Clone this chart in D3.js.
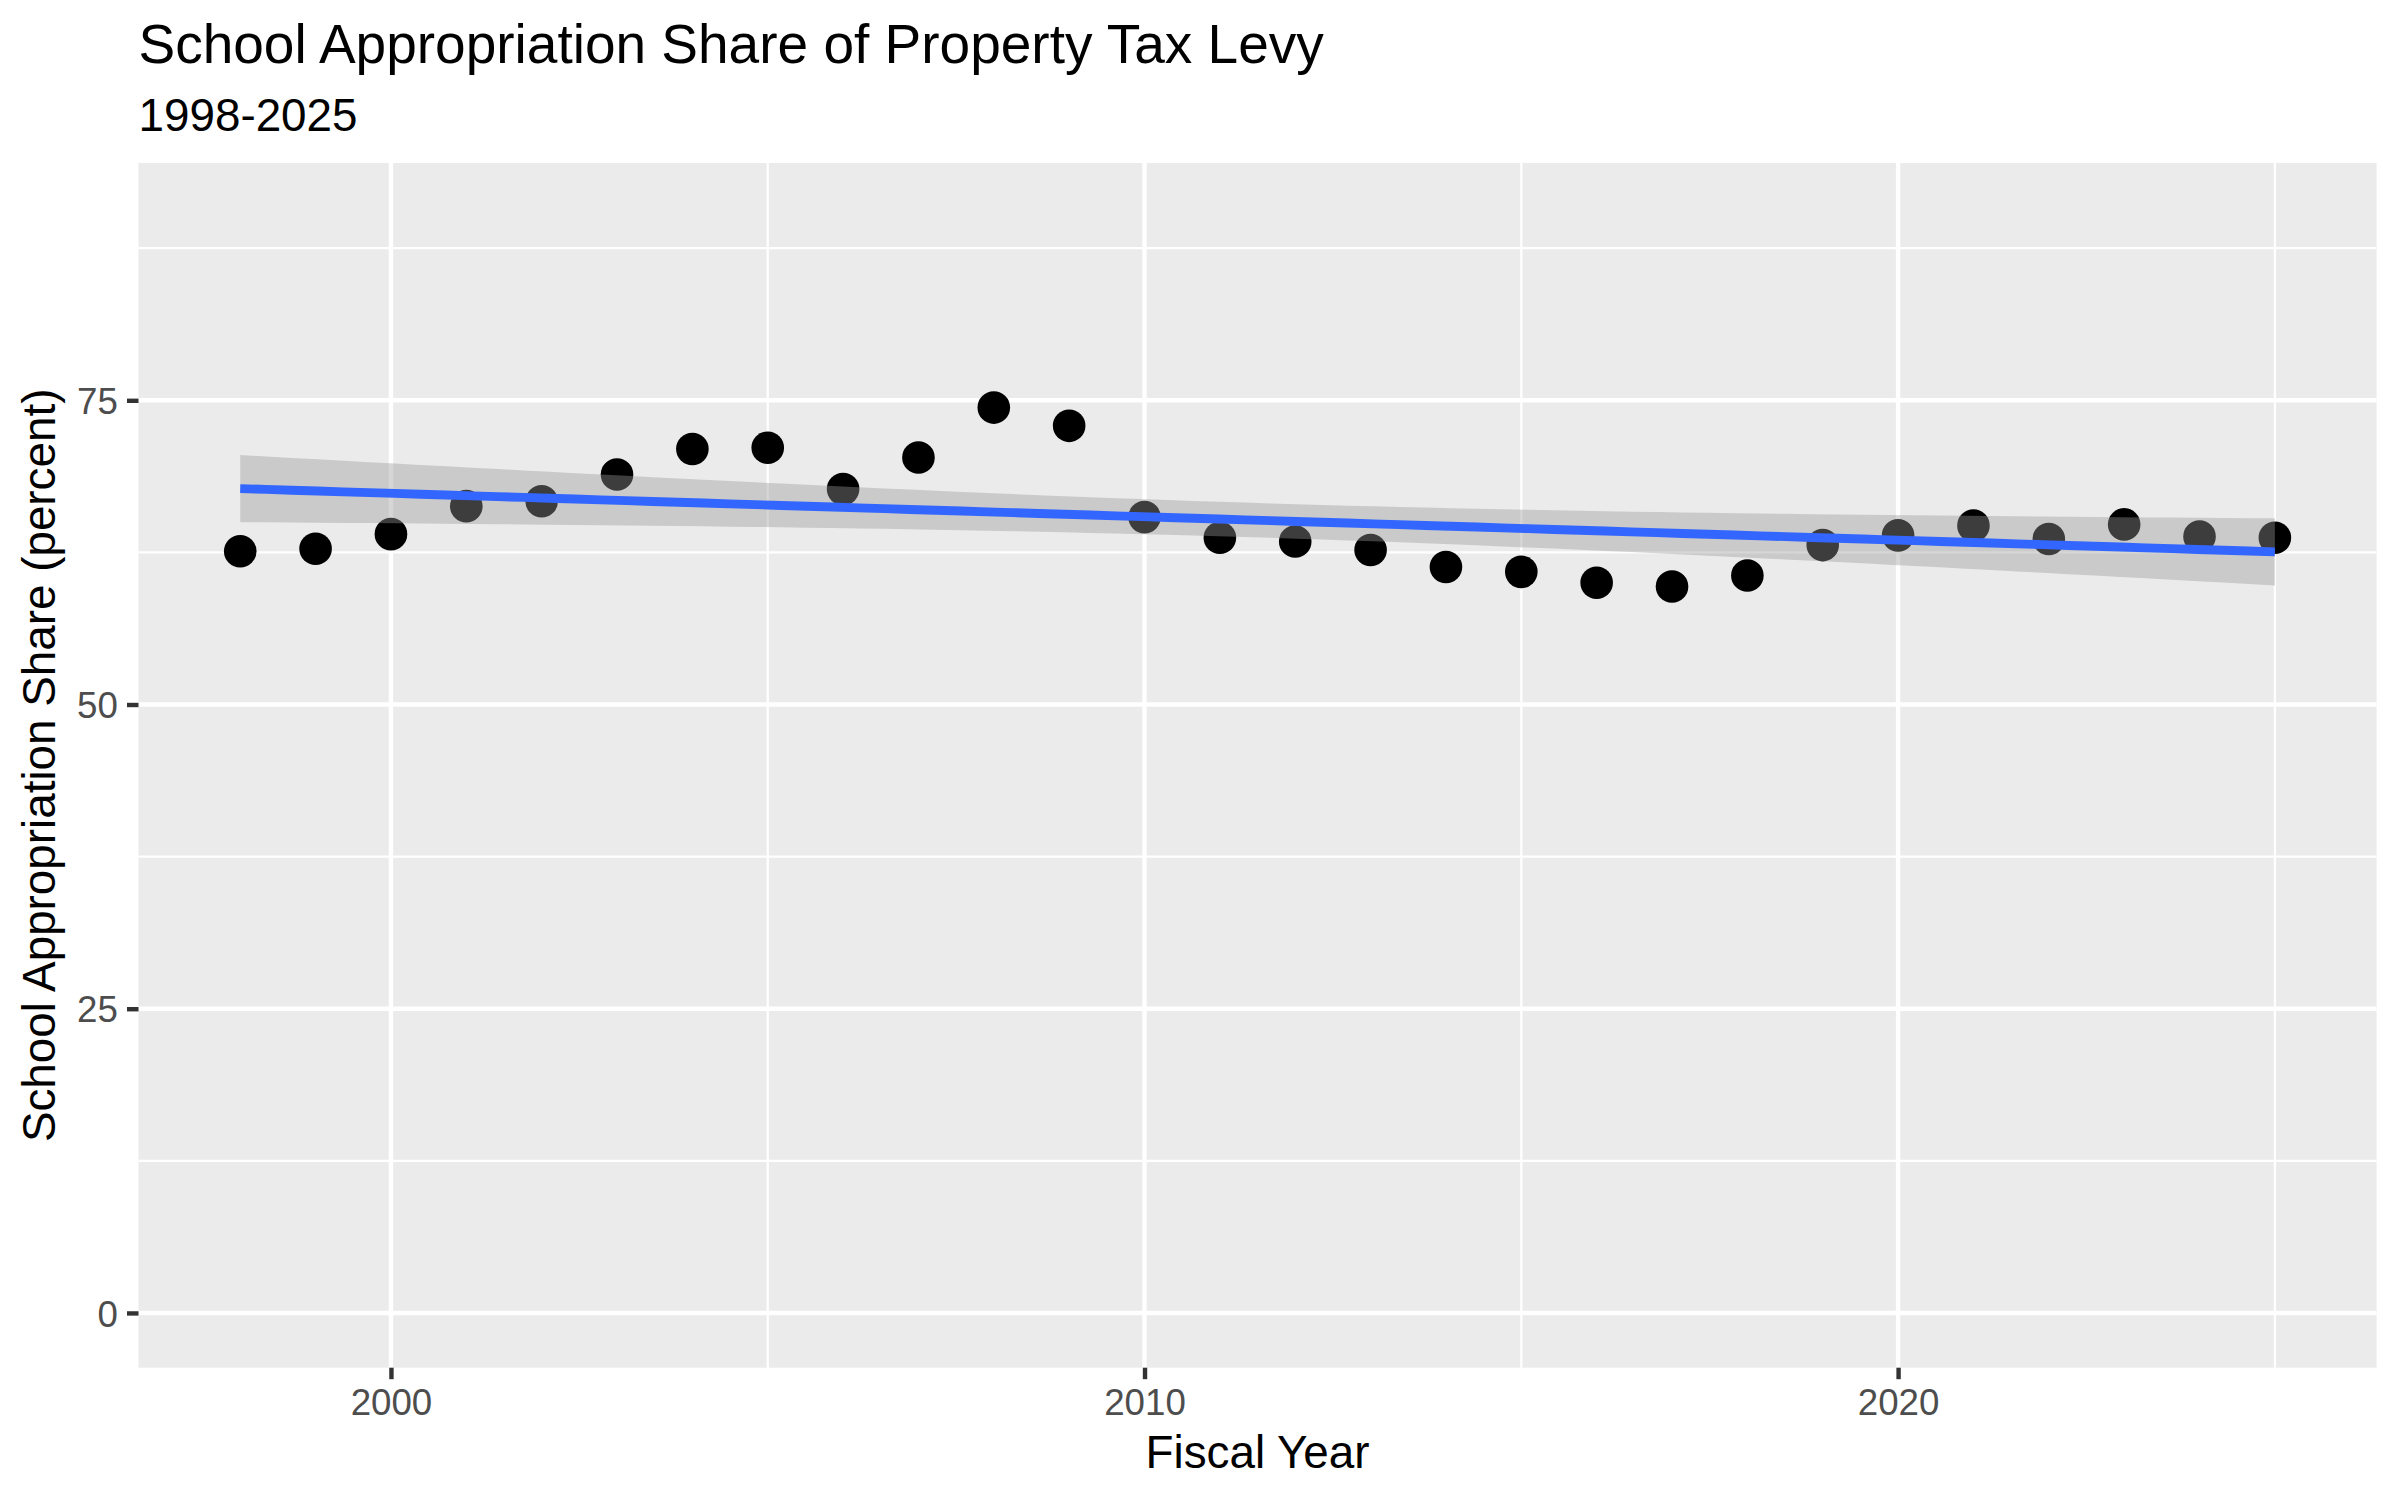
<!DOCTYPE html>
<html>
<head>
<meta charset="utf-8">
<script src="https://cdn.jsdelivr.net/npm/d3@7"></script>
<style>
  body { margin: 0; background: #fff; }
  text { font-family: "Liberation Sans", Arial, Helvetica, sans-serif; }
</style>
</head>
<body>
<div id="vis"></div>
<script>

// data
var years = [1998, 1999, 2000, 2001, 2002, 2003, 2004, 2005, 2006, 2007,
             2008, 2009, 2010, 2011, 2012, 2013, 2014, 2015, 2016, 2017,
             2018, 2019, 2020, 2021, 2022, 2023, 2024, 2025];
var shares = [62.6, 62.8, 64.0, 66.3, 66.7, 68.9, 71.0, 71.1, 67.7, 70.3,
              74.4, 72.9, 65.4, 63.7, 63.4, 62.7, 61.3, 60.9, 60.0, 59.7,
              60.6, 63.1, 63.9, 64.7, 63.6, 64.8, 63.8, 63.7];

var xBreaks = [2000, 2010, 2020];
var xMinorBreaks = [2005, 2015, 2025];
var yBreaks = [0, 25, 50, 75];
var yMinorBreaks = [12.5, 37.5, 62.5, 87.5];
var yLimits = [0, 90];

var titleText = "School Appropriation Share of Property Tax Levy";
var subtitleText = "1998-2025";
var xTitle = "Fiscal Year";
var yTitle = "School Appropriation Share (percent)";

var WIDTH = 2400, HEIGHT = 1500;
var panel = { left: 138.5, right: 2376.6, top: 163, bottom: 1367.7 };

// linear fit with 95% band, like geom_smooth(method = "lm")
function fitLm(xs, ys){
  var n = xs.length;
  var mx = d3.mean(xs), my = d3.mean(ys);
  var sxx = 0, sxy = 0;
  for(var i = 0; i < n; i++){
    sxx += (xs[i] - mx) * (xs[i] - mx);
    sxy += (xs[i] - mx) * (ys[i] - my);
  }
  var b = sxy / sxx;
  var a = my - b * mx;
  var sse = 0;
  for(var j = 0; j < n; j++){
    var r = ys[j] - (a + b * xs[j]);
    sse += r * r;
  }
  var s = Math.sqrt(sse / (n - 2));
  var tq = 2.0555; // qt(0.975, 26)
  var lo = d3.min(xs), hi = d3.max(xs);
  var out = [];
  for(var k = 0; k < 80; k++){
    var x = lo + (hi - lo) * k / 79;
    var fit = a + b * x;
    var se = s * Math.sqrt(1 / n + (x - mx) * (x - mx) / sxx);
    out.push({ x: x, y: fit, ymin: fit - tq * se, ymax: fit + tq * se });
  }
  return out;
}

function draw(){
  var svg = d3.select("#vis").append("svg")
    .attr("width", WIDTH).attr("height", HEIGHT);

  var xr = d3.max(years) - d3.min(years);
  var x = d3.scaleLinear()
    .domain([d3.min(years) - 0.05 * xr, d3.max(years) + 0.05 * xr])
    .range([panel.left, panel.right]);
  var yr = yLimits[1] - yLimits[0];
  var y = d3.scaleLinear()
    .domain([yLimits[0] - 0.05 * yr, yLimits[1] + 0.05 * yr])
    .range([panel.bottom, panel.top]);

  // panel background
  svg.append("rect")
    .attr("x", panel.left).attr("y", panel.top)
    .attr("width", panel.right - panel.left)
    .attr("height", panel.bottom - panel.top)
    .attr("fill", "#EBEBEB");

  var grid = svg.append("g");
  grid.selectAll(".ymin").data(yMinorBreaks).enter().append("line")
    .attr("x1", panel.left).attr("x2", panel.right)
    .attr("y1", function(d){ return y(d); }).attr("y2", function(d){ return y(d); })
    .attr("stroke", "#fff").attr("stroke-width", 2.2);
  grid.selectAll(".xmin").data(xMinorBreaks).enter().append("line")
    .attr("y1", panel.top).attr("y2", panel.bottom)
    .attr("x1", function(d){ return x(d); }).attr("x2", function(d){ return x(d); })
    .attr("stroke", "#fff").attr("stroke-width", 2.2);
  grid.selectAll(".ymaj").data(yBreaks).enter().append("line")
    .attr("x1", panel.left).attr("x2", panel.right)
    .attr("y1", function(d){ return y(d); }).attr("y2", function(d){ return y(d); })
    .attr("stroke", "#fff").attr("stroke-width", 4.4);
  grid.selectAll(".xmaj").data(xBreaks).enter().append("line")
    .attr("y1", panel.top).attr("y2", panel.bottom)
    .attr("x1", function(d){ return x(d); }).attr("x2", function(d){ return x(d); })
    .attr("stroke", "#fff").attr("stroke-width", 4.4);

  // points
  var data = years.map(function(yy, i){ return { x: yy, y: shares[i] }; });
  svg.selectAll(".point").data(data).enter().append("circle")
    .attr("class", "point")
    .attr("cx", function(d){ return x(d.x); })
    .attr("cy", function(d){ return y(d.y); })
    .attr("r", 16.3)
    .attr("fill", "#000");

  // smooth
  var smooth = fitLm(years, shares);
  svg.append("path").datum(smooth)
    .attr("d", d3.area()
      .x(function(d){ return x(d.x); })
      .y0(function(d){ return y(d.ymin); })
      .y1(function(d){ return y(d.ymax); }))
    .attr("fill", "#999999").attr("fill-opacity", 0.4);
  svg.append("path").datum(smooth)
    .attr("d", d3.line()
      .x(function(d){ return x(d.x); })
      .y(function(d){ return y(d.y); }))
    .attr("fill", "none").attr("stroke", "#3366FF").attr("stroke-width", 8.9);

  // axes
  var xAxis = d3.axisBottom(x).tickValues(xBreaks).tickFormat(d3.format("d"))
    .tickSize(11.5).tickPadding(9.2);
  var gx = svg.append("g").attr("transform", "translate(0," + panel.bottom + ")").call(xAxis);
  var yAxis = d3.axisLeft(y).tickValues(yBreaks).tickFormat(d3.format("d"))
    .tickSize(11.5).tickPadding(9.2);
  var gy = svg.append("g").attr("transform", "translate(" + panel.left + ",0)").call(yAxis);

  [gx, gy].forEach(function(g){
    g.select(".domain").remove();
    g.selectAll(".tick line").attr("stroke", "#333333").attr("stroke-width", 4.4);
    g.selectAll(".tick text").attr("fill", "#4D4D4D").attr("font-size", 36.7)
      .attr("font-family", "'Liberation Sans', Arial, Helvetica, sans-serif");
  });
  gy.selectAll(".tick text").attr("dy", "0.36em");
  gx.selectAll(".tick text").attr("dy", "0.72em");

  // titles
  svg.append("text").attr("x", panel.left).attr("y", 62.5)
    .attr("font-size", 55).attr("fill", "#000").text(titleText);
  svg.append("text").attr("x", panel.left).attr("y", 131)
    .attr("font-size", 45.8).attr("fill", "#000").text(subtitleText);
  svg.append("text").attr("x", (panel.left + panel.right) / 2).attr("y", 1468.3)
    .attr("text-anchor", "middle")
    .attr("font-size", 45.8).attr("fill", "#000").text(xTitle);
  svg.append("text")
    .attr("transform", "translate(55," + (panel.top + panel.bottom) / 2 + ") rotate(-90)")
    .attr("text-anchor", "middle")
    .attr("font-size", 45.8).attr("fill", "#000").text(yTitle);
}

draw();
</script>
</body>
</html>
